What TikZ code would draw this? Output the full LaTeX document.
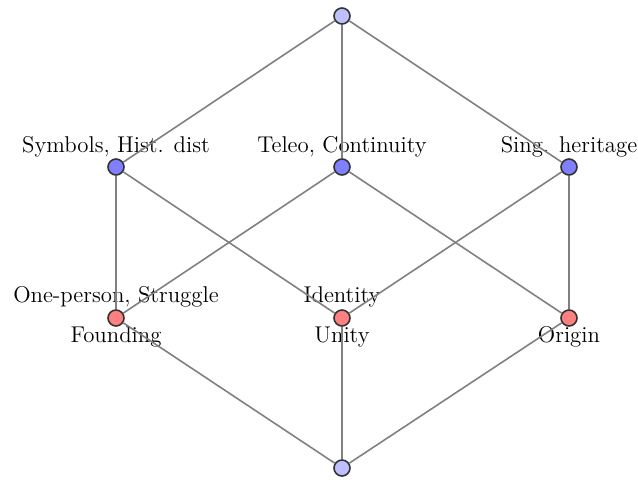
\documentclass[tikz,border=0pt]{standalone}
\begin{document}
\begin{tikzpicture}[x=0.5pt,y=-0.5pt,
  vert/.style={circle,draw=black!80,thick,inner sep=0pt,minimum size=8pt},
  topc/.style={vert,fill=blue!25},
  midc/.style={vert,fill=blue!50},
  lowc/.style={vert,fill=red!50},
  edge/.style={draw=black!50,thick},
  lab/.style={inner sep=0pt,font=\fontsize{11.4}{13}\selectfont}]
\useasboundingbox (0,0) rectangle (638,479);
\node[topc] (t) at (342,16) {};
\node[midc] (s) at (116,167) {};
\node[midc] (c) at (342,167) {};
\node[midc] (h) at (569,167) {};
\node[lowc] (f) at (116,318) {};
\node[lowc] (u) at (342,318) {};
\node[lowc] (o) at (569,318) {};
\node[topc] (b) at (342,468) {};
\node[lab] (ls) at (116,147) {Symbols, Hist. dist};
\node[lab] (lc) at (342,147) {Teleo, Continuity};
\node[lab] (lh) at (569,147) {Sing. heritage};
\node[lab] (lf1) at (116,297) {One-person, Struggle};
\node[lab] (lf2) at (116,337) {Founding};
\node[lab] (lu1) at (342,297) {Identity};
\node[lab] (lu2) at (342,337) {Unity};
\node[lab] (lo) at (569,337) {Origin};
\draw[edge] (t) -- (s);
\draw[edge] (t) -- (c);
\draw[edge] (t) -- (h);
\draw[edge] (s) -- (f);
\draw[edge] (s) -- (u);
\draw[edge] (c) -- (f);
\draw[edge] (c) -- (o);
\draw[edge] (h) -- (u);
\draw[edge] (h) -- (o);
\draw[edge] (f) -- (b);
\draw[edge] (u) -- (b);
\draw[edge] (o) -- (b);
\end{tikzpicture}
\end{document}
